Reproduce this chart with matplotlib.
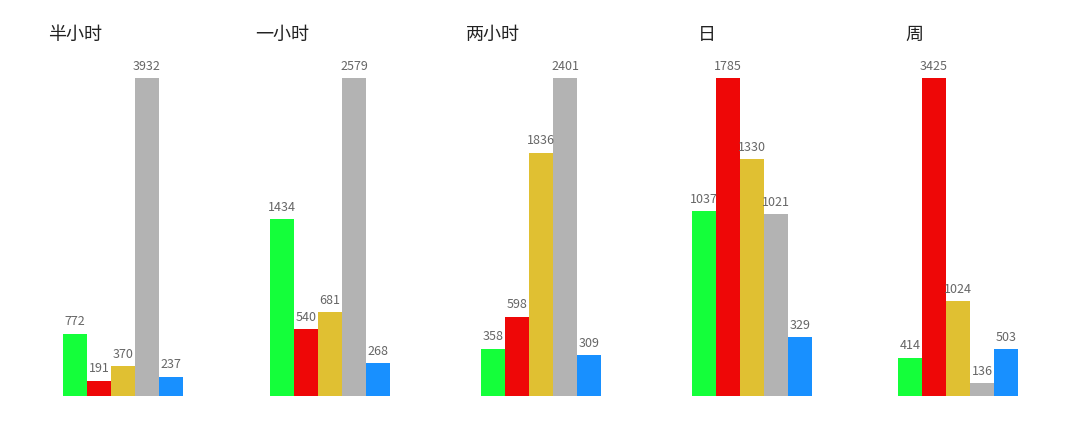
import matplotlib
matplotlib.use("Agg")
import matplotlib.pyplot as plt

plt.rcParams['font.family'] = ['Noto Sans CJK SC', 'DejaVu Sans']

titles = ["半小时", "一小时", "两小时", "日", "周"]
values = [
    [772, 191, 370, 3932, 237],
    [1434, 540, 681, 2579, 268],
    [358, 598, 1836, 2401, 309],
    [1037, 1785, 1330, 1021, 329],
    [414, 3425, 1024, 136, 503],
]
colors = ["#14FF3A", "#EE0707", "#E0C032", "#B3B3B3", "#1890FF"]

bar_left = [63, 270, 481, 692, 898]
title_x = [48, 255, 466, 698, 905]

fig = plt.figure(figsize=(10.8, 4.27), dpi=100)
for i, vals in enumerate(values):
    ax = fig.add_axes([bar_left[i] / 1080, 30 / 427, 120 / 1080, 318 / 427])
    xs = range(len(vals))
    ax.bar(xs, vals, width=1.0, color=colors)
    ax.set_xlim(-0.5, 4.5)
    ax.set_ylim(0, max(vals))
    for x, v in zip(xs, vals):
        ax.text(x, v + max(vals) * 0.02, str(v), ha="center", va="bottom",
                fontsize=9, color="#666666", clip_on=False)
    ax.axis("off")
    fig.text(title_x[i] / 1080, 1 - 35 / 427, titles[i], fontsize=13,
             ha="left", va="center", color="#222222")

fig.savefig("out.png", dpi=100)
